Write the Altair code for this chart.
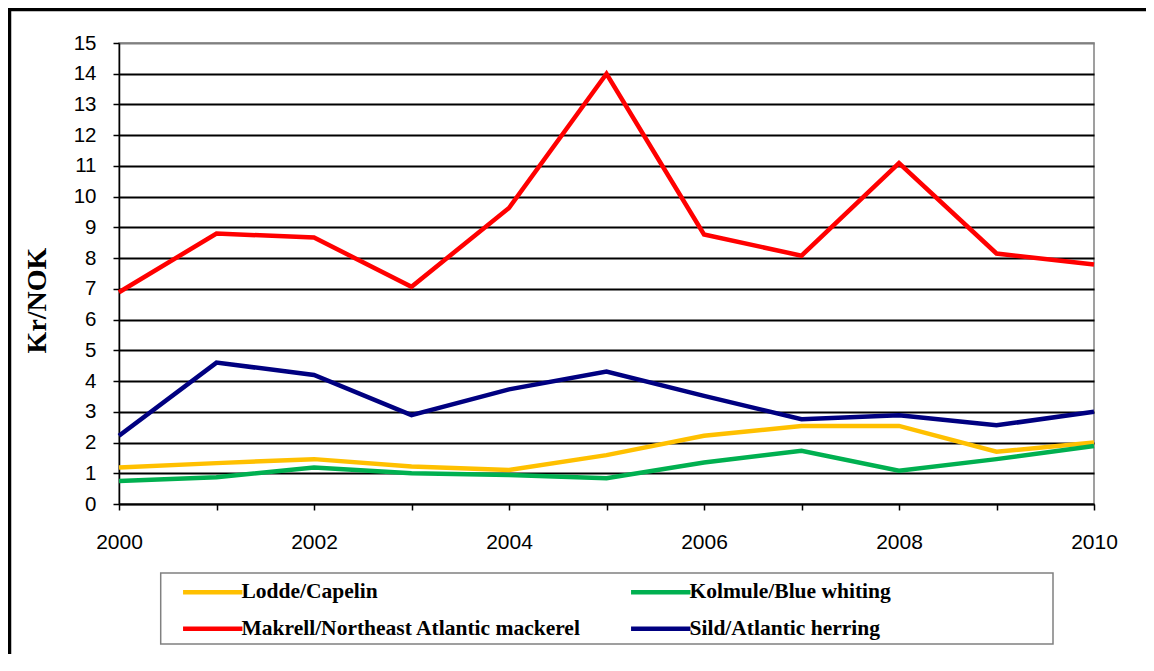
import altair as alt
import pandas as pd

years = list(range(2000, 2011))
lodde = [1.19, 1.33, 1.46, 1.22, 1.11, 1.59, 2.22, 2.54, 2.54, 1.70, 2.00]
kolmule = [0.75, 0.87, 1.19, 1.00, 0.94, 0.84, 1.35, 1.73, 1.08, 1.46, 1.89]
makrell = [6.89, 8.80, 8.67, 7.07, 9.63, 14.00, 8.77, 8.08, 11.09, 8.15, 7.79]
sild = [2.22, 4.60, 4.20, 2.89, 3.73, 4.31, 3.52, 2.76, 2.89, 2.56, 3.00]

series_names = [
    "Lodde/Capelin",
    "Kolmule/Blue whiting",
    "Makrell/Northeast Atlantic mackerel",
    "Sild/Atlantic herring",
]
series_colors = ["#FFC000", "#00B050", "#FF0000", "#000080"]
y_ticks = list(range(0, 16))
x_ticks = years

rows = []
for name, vals in zip(series_names, [lodde, kolmule, makrell, sild]):
    for yr, v in zip(years, vals):
        rows.append({"Year": yr, "Value": v, "Series": name})
df = pd.DataFrame(rows)

W, H = 975, 461
PAD = {"left": 111, "top": 35, "right": 52, "bottom": 150}

lines = alt.Chart(df).mark_line(strokeWidth=4.5, strokeJoin="miter").encode(
    x=alt.X(
        "Year:Q",
        scale=alt.Scale(domain=[2000, 2010], nice=False, zero=False),
        axis=alt.Axis(
            values=x_ticks,
            format="d",
            labelExpr="datum.value % 2 == 0 ? datum.label : ''",
            grid=False,
            title=None,
            labelFont="Liberation Sans",
            labelFontSize=21,
            labelColor="black",
            labelPadding=21,
            tickSize=6,
            tickColor="black",
            tickWidth=1.5,
            domainColor="black",
            domainWidth=1.5,
            labelFlush=False,
            labelOverlap=False,
        ),
    ),
    y=alt.Y(
        "Value:Q",
        scale=alt.Scale(domain=[0, 15], nice=False),
        axis=alt.Axis(
            values=y_ticks,
            title="Kr/NOK",
            titleFont="Liberation Serif",
            titleFontWeight="bold",
            titleFontSize=28,
            titleColor="black",
            titleAngle=270,
            titleAlign="center",
            titleBaseline="middle",
            titleX=-82,
            titleY=257,
            labelFont="Liberation Sans",
            labelFontSize=20.5,
            labelColor="black",
            labelPadding=17,
            tickSize=6,
            tickColor="black",
            tickWidth=1.5,
            domainColor="black",
            domainWidth=1.5,
            grid=True,
            gridColor={"condition": {"test": "datum.value === 15", "value": "#808080"}, "value": "black"},
            gridWidth=1.8,
            labelOverlap=False,
        ),
    ),
    color=alt.Color(
        "Series:N",
        scale=alt.Scale(domain=series_names, range=series_colors),
        legend=alt.Legend(
            orient="none",
            direction="horizontal",
            legendX=83,
            legendY=538,
            columns=2,
            title=None,
            symbolType="M-5.4,0H5.4",
            symbolSize=121,
            symbolStrokeWidth=4.5,
            labelFont="Liberation Serif",
            labelFontWeight="bold",
            labelFontSize=21.5,
            labelColor="black",
            labelOffset=18,
            labelLimit=600,
            columnPadding=40,
            rowPadding=14,
            padding=0,
        ),
    ),
)

one = pd.DataFrame({"k": [0]})

legend_box = alt.Chart(one).mark_rect(filled=False, stroke="#808080", strokeWidth=1.5).encode(
    x=alt.value(41.7), x2=alt.value(934), y=alt.value(530), y2=alt.value(601)
)
top_border = alt.Chart(one).mark_rule(stroke="black", strokeWidth=3.5).encode(
    x=alt.value(-111), x2=alt.value(W + PAD["right"]), y=alt.value(-33.5)
)
left_border = alt.Chart(one).mark_rule(stroke="black", strokeWidth=3.5).encode(
    x=alt.value(-109.5), y=alt.value(-35), y2=alt.value(H + PAD["bottom"])
)

chart = alt.layer(legend_box, lines, top_border, left_border).properties(
    width=W,
    height=H,
    autosize=alt.AutoSizeParams(type="none"),
    padding=PAD,
    background="white",
).configure_view(stroke="#808080", strokeWidth=1.5)

chart.save("out.html", embed_options={"renderer": "svg", "actions": False})
